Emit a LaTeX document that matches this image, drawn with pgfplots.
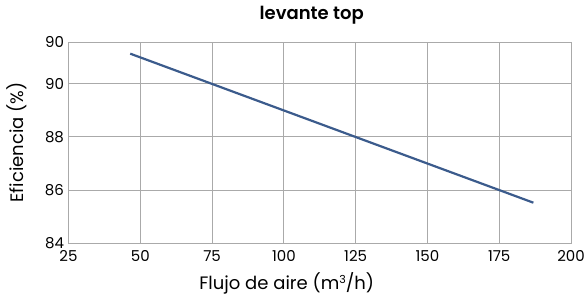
\documentclass[border=0pt]{standalone}
\usepackage{pgfplots}
\pgfplotsset{compat=1.18}
\usepackage{fontspec}
\setmainfont{Poppins}[BoldFont={Poppins SemiBold}]
\definecolor{linec}{HTML}{3B5B8C}
\definecolor{gridc}{HTML}{AAAAAA}
\begin{document}
\begin{tikzpicture}
\useasboundingbox (-68.5pt,-55pt) rectangle (518.5pt,243pt);
\begin{axis}[
  scale only axis,
  width=502.5pt, height=201pt,
  xmin=25, xmax=200, ymin=84, ymax=91.58,
  xtick={25,50,75,100,125,150,175,200},
  ytick={84,86,88,90,91.58},
  yticklabels={84,86,88,90,90},
  /pgf/number format/assume math mode=true,
  grid=major,
  major grid style={gridc, line width=0.9pt},
  axis line style={gridc, line width=0.9pt},
  tick style={draw=none},
  tick label style={font=\fontsize{15}{15}\selectfont, text=black},
  xticklabel style={yshift=-4pt},
  yticklabel style={xshift=-1pt},
  xlabel={Flujo de aire (m\raisebox{0.55ex}{\fontsize{11}{11}\selectfont 3}/h)},
  ylabel={Eficiencia (\%)},
  label style={font=\fontsize{18}{18}\selectfont},
  xlabel style={at={(axis description cs:0.5,0)}, anchor=center, yshift=-40pt, xshift=-33pt},
  ylabel style={at={(axis description cs:-0.1025,0.5)}, anchor=center},
  title={\textbf{levante top}},
  title style={font=\fontsize{18}{18}\selectfont, at={(axis description cs:0.5,1)}, anchor=center, yshift=21pt, xshift=-8pt},
]
\addplot[linec, line width=2.2pt] coordinates {(46.5,91.14) (186.9,85.52)};
\end{axis}
\end{tikzpicture}
\end{document}
